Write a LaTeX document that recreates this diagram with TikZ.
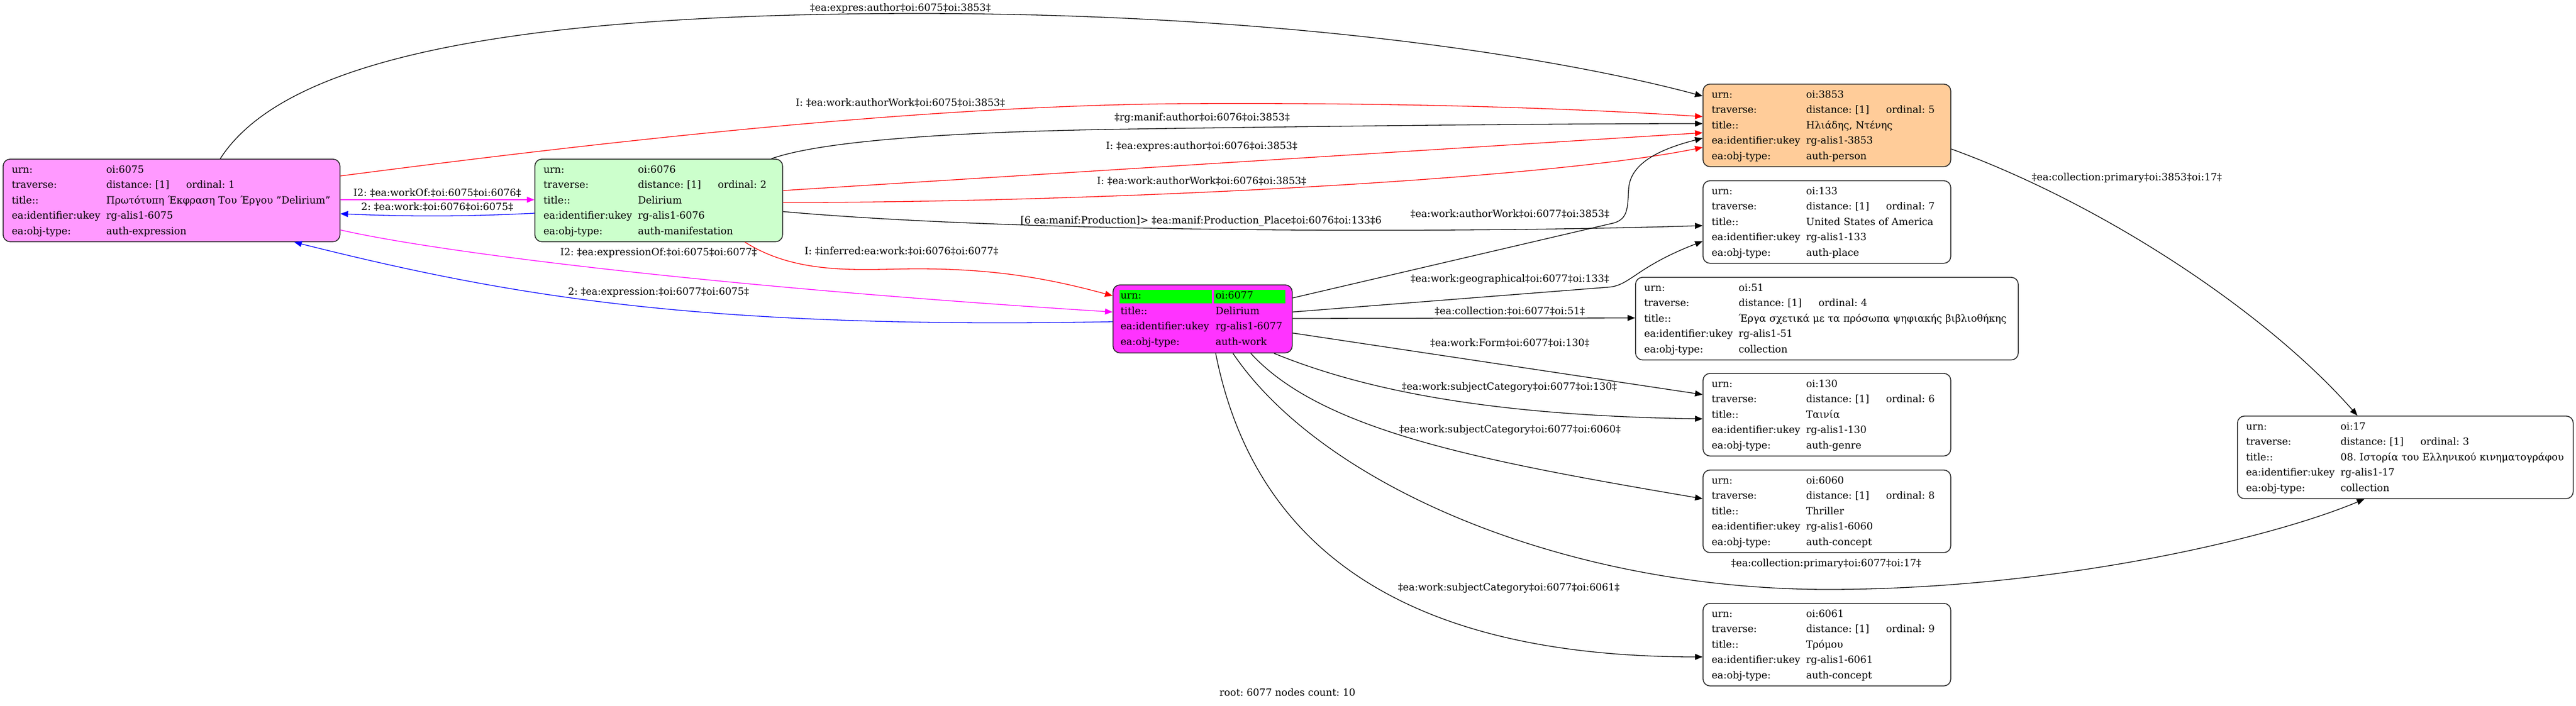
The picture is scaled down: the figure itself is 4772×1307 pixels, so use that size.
\documentclass[tikz,border=0pt]{standalone}
\usepackage{fontspec}
\setmainfont{DejaVu Serif}
\usepackage{array}
\usetikzlibrary{arrows.meta}
\frenchspacing
\definecolor{cexpr}{HTML}{FF99FF}
\definecolor{cmanif}{HTML}{CCFFCC}
\definecolor{cwork}{HTML}{FF33FF}
\definecolor{cperson}{HTML}{FFCC99}
\definecolor{urngreen}{HTML}{00FF00}
\definecolor{gvred}{HTML}{FF0000}
\definecolor{gvblue}{HTML}{0000FF}
\definecolor{gvmag}{HTML}{FF00FF}
\newcommand\gvfont{\fontsize{18.4}{28.5}\selectfont\frenchspacing}
\newcommand\ftab[6]{\noindent\begin{tabular}{@{}>{\raggedright\arraybackslash}p{#1}@{}l@{}}
urn: & #2\\
traverse: & \makebox[148pt][l]{distance: [1]}ordinal: #3\\
title:: & #4\\
ea:identifier:ukey & #5\\
ea:obj-type: & #6
\end{tabular}}
\begin{document}
\begin{tikzpicture}[x=1pt,y=-1pt,
  ent/.style={draw=black!85, line width=1.6pt, rounded corners=13pt, inner xsep=16pt, inner ysep=0pt,
    anchor=north west, minimum height=153pt, font=\gvfont, align=left},
  conn/.style={line width=1.3pt, -{Triangle[length=14pt,width=11pt]}},
  lbl/.style={inner sep=0pt, font=\gvfont, text height=13.5pt, text depth=4.5pt}]
\useasboundingbox (0,0) rectangle (4772,1307);
\fill[white] (0,0) rectangle (4772,1307);

% entity nodes
\node[ent, fill=cexpr, text width=592pt] (n6075) at (5,294)
  {\ftab{175pt}{oi:6075}{1}{Πρωτότυπη Έκφραση Του Έργου "Delirium"}{rg-alis1-6075}{auth-expression}};
\node[ent, fill=cmanif, text width=427pt] (n6076) at (990,294)
  {\ftab{175pt}{oi:6076}{2}{Delirium}{rg-alis1-6076}{auth-manifestation}};
\node[ent, fill=cwork, text width=304pt, inner xsep=14pt, minimum height=126pt,
  path picture={\fill[urngreen, sharp corners] ([xshift=12pt,yshift=-9pt]path picture bounding box.north west) rectangle ++(171pt,-25pt);
                \fill[urngreen, sharp corners] ([xshift=187pt,yshift=-9pt]path picture bounding box.north west) rectangle ++(132pt,-25pt);}]
  (n6077) at (2061,527)
  {\noindent\begin{tabular}{@{}>{\raggedright\arraybackslash}p{176pt}@{}l@{}}
   urn: & oi:6077\\
   title:: & Delirium\\
   ea:identifier:ukey & rg-alis1-6077\\
   ea:obj-type: & auth-work
   \end{tabular}};
\node[ent, fill=cperson, text width=427pt] (n3853) at (3154,155)
  {\ftab{175pt}{oi:3853}{5}{Ηλιάδης, Ντένης}{rg-alis1-3853}{auth-person}};
\node[ent, fill=white, text width=427pt] (n133) at (3154,334)
  {\ftab{175pt}{oi:133}{7}{United States of America}{rg-alis1-133}{auth-place}};
\node[ent, fill=white, text width=677pt] (n51) at (3029,513)
  {\ftab{175pt}{oi:51}{4}{Έργα σχετικά με τα πρόσωπα ψηφιακής βιβλιοθήκης}{rg-alis1-51}{collection}};
\node[ent, fill=white, text width=427pt] (n130) at (3154,691)
  {\ftab{175pt}{oi:130}{6}{Ταινία}{rg-alis1-130}{auth-genre}};
\node[ent, fill=white, text width=427pt] (n6060) at (3154,870)
  {\ftab{175pt}{oi:6060}{8}{Thriller}{rg-alis1-6060}{auth-concept}};
\node[ent, fill=white, text width=427pt] (n6061) at (3154,1117)
  {\ftab{175pt}{oi:6061}{9}{Τρόμου}{rg-alis1-6061}{auth-concept}};
\node[ent, fill=white, text width=590pt] (n17) at (4144,770)
  {\ftab{175pt}{oi:17}{3}{08. Ιστορία του Ελληνικού κινηματογράφου}{rg-alis1-17}{collection}};

% connectors
\draw[conn] ([xshift=403pt]n6075.north west) .. controls (520,120) and (900,25) .. (1700,25)
  .. controls (2400,25) and (2900,110) .. ([yshift=-23pt]n3853.north west);
\draw[conn, gvred] ([yshift=-32pt]n6075.north east) .. controls (1100,265) and (1700,195) .. (2200,192)
  .. controls (2600,190) and (2900,200) .. ([yshift=-61pt]n3853.north west);
\draw[conn] ([xshift=439pt]n6076.north west) .. controls (1520,262) and (1750,244) .. (2100,239)
  .. controls (2500,233) and (2900,229) .. ([yshift=-74pt]n3853.north west);
\draw[conn, gvred] ([yshift=-59pt]n6076.north east) -- ([yshift=-91pt]n3853.north west);
\draw[conn, gvred] ([yshift=-81pt]n6076.north east) .. controls (2000,376) and (2850,335) .. ([yshift=-118pt]n3853.north west);
\draw[conn] ([yshift=-98pt]n6076.north east) .. controls (1900,432) and (2700,432) .. ([yshift=-84pt]n133.north west);
\draw[conn] ([yshift=-25pt]n6077.north east) -- (2990,413) .. controls (3016,405) and (3015,385) .. (3017,350)
  .. controls (3020,300) and (3080,275) .. ([yshift=-101pt]n3853.north west);
\draw[conn] ([yshift=-51pt]n6077.north east) -- (2980,532) .. controls (3020,529) and (3030,495) .. ([yshift=-113pt]n133.north west);
\draw[conn] ([yshift=-63pt]n6077.north east) -- ([yshift=-76pt]n51.north west);
\draw[conn] ([yshift=-90pt]n6077.north east) -- ([yshift=-40pt]n130.north west);
\draw[conn] ([xshift=299pt]n6077.south west) .. controls (2520,720) and (2750,770) .. ([yshift=-85pt]n130.north west);
\draw[conn] ([xshift=256pt]n6077.south west) .. controls (2450,800) and (2750,855) .. ([yshift=-54pt]n6060.north west);
\draw[conn] ([xshift=223pt]n6077.south west) .. controls (2450,900) and (2900,1092) .. (3386,1092)
  .. controls (3800,1092) and (4200,1000) .. ([xshift=236pt]n17.south west);
\draw[conn] ([xshift=191pt]n6077.south west) .. controls (2330,1050) and (2650,1217) .. ([yshift=-100pt]n6061.north west);
\draw[conn] ([yshift=-121pt]n3853.north east) .. controls (3900,380) and (4200,580) .. ([xshift=223pt]n17.north west);
\draw[conn, gvmag] ([yshift=-76pt]n6075.north east) -- ([yshift=-76pt]n6076.north west);
\draw[conn, gvblue] ([yshift=-101pt]n6076.north west) .. controls (850,402) and (750,401) .. ([yshift=-102pt]n6075.north east);
\draw[conn, gvmag] ([yshift=-132pt]n6075.north east) .. controls (800,465) and (1300,530) .. ([yshift=-51pt]n6077.north west);
\draw[conn, gvblue] ([yshift=-69pt]n6077.north west) .. controls (1300,610) and (950,550) .. ([xshift=540pt]n6075.south west);
\draw[conn, gvred] ([xshift=390pt]n6076.south west) .. controls (1480,512) and (1600,498) .. (1700,498)
  .. controls (1850,498) and (1950,518) .. ([yshift=-21pt]n6077.north west);

% connector labels
\node[lbl] (l1) at (1668,16) {‡ea:expres:author‡oi:6075‡oi:3853‡};
\node[lbl] (l2) at (1668,192) {I: ‡ea:work:authorWork‡oi:6075‡oi:3853‡};
\node[lbl] (l3) at (2227,219) {‡rg:manif:author‡oi:6076‡oi:3853‡};
\node[lbl] (l4) at (2226,272) {I: ‡ea:expres:author‡oi:6076‡oi:3853‡};
\node[lbl] (l5) at (2226,337) {I: ‡ea:work:authorWork‡oi:6076‡oi:3853‡};
\node[lbl] (l6) at (2225,410) {[6 ea:manif:Production]> ‡ea:manif:Production\_Place‡oi:6076‡oi:133‡6};
\node[lbl] (l7) at (2797,398) {‡ea:work:authorWork‡oi:6077‡oi:3853‡};
\node[lbl] (l8) at (2797,518) {‡ea:work:geographical‡oi:6077‡oi:133‡};
\node[lbl] (l9) at (2797,578) {‡ea:collection:‡oi:6077‡oi:51‡};
\node[lbl] (l10) at (2797,637) {‡ea:work:Form‡oi:6077‡oi:130‡};
\node[lbl] (l11) at (2796,718) {‡ea:work:subjectCategory‡oi:6077‡oi:130‡};
\node[lbl] (l12) at (2797,797) {‡ea:work:subjectCategory‡oi:6077‡oi:6060‡};
\node[lbl] (l13) at (3383,1045) {‡ea:collection:primary‡oi:6077‡oi:17‡};
\node[lbl] (l14) at (2795,1090) {‡ea:work:subjectCategory‡oi:6077‡oi:6061‡};
\node[lbl] (l15) at (3940,330) {‡ea:collection:primary‡oi:3853‡oi:17‡};
\node[lbl] (l16) at (810,359) {I2: ‡ea:workOf:‡oi:6075‡oi:6076‡};
\node[lbl] (l17) at (810,385) {2: ‡ea:work:‡oi:6076‡oi:6075‡};
\node[lbl] (l18) at (1220,469) {I2: ‡ea:expressionOf:‡oi:6075‡oi:6077‡};
\node[lbl] (l19) at (1220,542) {2: ‡ea:expression:‡oi:6077‡oi:6075‡};
\node[lbl] (l20) at (1670,467) {I: ‡inferred:ea:work:‡oi:6076‡oi:6077‡};
\node[lbl] (footer) at (2385,1285) {root: 6077 nodes count: 10};
\end{tikzpicture}
\end{document}
